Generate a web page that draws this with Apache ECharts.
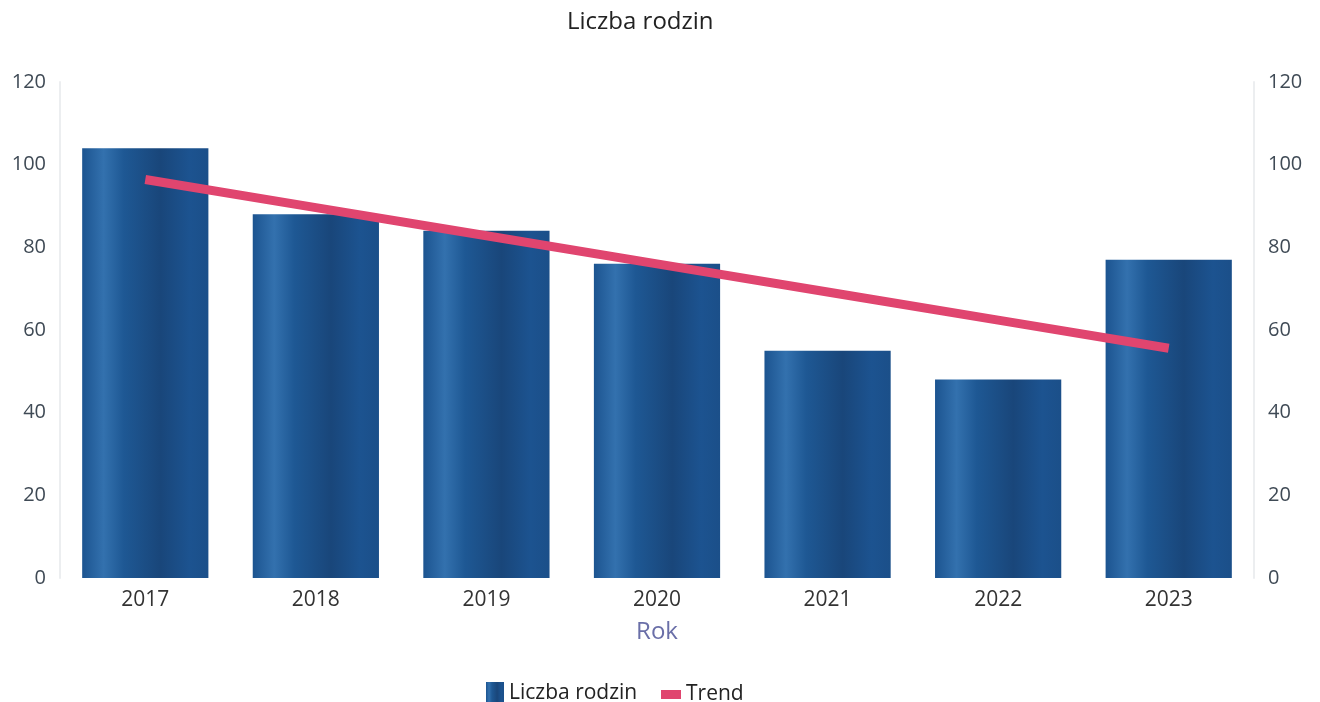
<!DOCTYPE html>
<html>
<head>
<meta charset="utf-8">
<script src="https://cdn.jsdelivr.net/npm/echarts@6/dist/echarts.min.js"></script>
<style>
html,body{margin:0;padding:0;background:#fff;}
#c{width:1320px;height:702px;}
</style>
</head>
<body>
<div id="c"></div>
<script>
const categories = ['2017', '2018', '2019', '2020', '2021', '2022', '2023'];
const families = [104, 88, 84, 76, 55, 48, 77];
const trend = [96.4, 89.6, 82.8, 76, 69.2, 62.4, 55.6];
const axisTicks = [0, 20, 40, 60, 80, 100, 120];

const chart = echarts.init(document.getElementById('c'));
const barGrad = new echarts.graphic.LinearGradient(0, 0, 1, 0, [
  {offset: 0, color: '#1c5490'},
  {offset: 0.17, color: '#3371ae'},
  {offset: 0.33, color: '#1e5894'},
  {offset: 0.62, color: '#19467a'},
  {offset: 0.85, color: '#1c5390'},
  {offset: 1, color: '#1b4f89'}
]);
const font = '"Open Sans", "DejaVu Sans", sans-serif';
chart.setOption({
  animation: false,
  backgroundColor: '#ffffff',
  textStyle: {fontFamily: font},
  title: {
    text: 'Liczba rodzin', left: 562, top: 5,
    textStyle: {fontSize: 24, fontWeight: 'normal', color: '#222', fontFamily: font}
  },
  legend: [
    {data: ['Liczba rodzin'], left: 481, top: 677, itemWidth: 18, itemHeight: 22, itemGap: 8,
     textStyle: {fontSize: 21, color: '#222', fontFamily: font}, icon: 'rect'},
    {data: ['Trend'], left: 656, top: 679, itemWidth: 20, itemHeight: 9,
     textStyle: {fontSize: 21, color: '#222', fontFamily: font}, icon: 'rect'}
  ],
  grid: {left: 60, right: 66, top: 82, bottom: 124, containLabel: false},
  xAxis: {
    type: 'category', data: categories,
    name: 'Rok', nameLocation: 'middle', nameGap: 42,
    nameTextStyle: {fontSize: 24, color: '#6a6fa8', fontFamily: font},
    axisLine: {show: false}, axisTick: {show: false},
    axisLabel: {fontSize: 21, color: '#333', margin: 12, fontFamily: font}
  },
  yAxis: [
    {type: 'value', min: 0, max: 120, interval: 20, position: 'left',
     axisLine: {show: true, lineStyle: {color: '#eceef0', width: 2}},
     axisTick: {show: false}, splitLine: {show: false},
     axisLabel: {fontSize: 20, color: '#3f4a55', margin: 14, fontFamily: font,
       formatter: v => axisTicks.includes(v) ? String(v) : ''}},
    {type: 'value', min: 0, max: 120, interval: 20, position: 'right',
     axisLine: {show: true, lineStyle: {color: '#eceef0', width: 2}},
     axisTick: {show: false}, splitLine: {show: false},
     axisLabel: {fontSize: 20, color: '#3f4a55', margin: 14, fontFamily: font,
       formatter: v => axisTicks.includes(v) ? String(v) : ''}}
  ],
  series: [
    {name: 'Liczba rodzin', type: 'bar', data: families, barCategoryGap: '26%',
     itemStyle: {color: barGrad}},
    {name: 'Trend', type: 'line', data: trend, showSymbol: false, symbol: 'none',
     lineStyle: {color: '#e0456f', width: 9}, itemStyle: {color: '#e0456f'}, z: 5}
  ]
});
</script>
</body>
</html>
